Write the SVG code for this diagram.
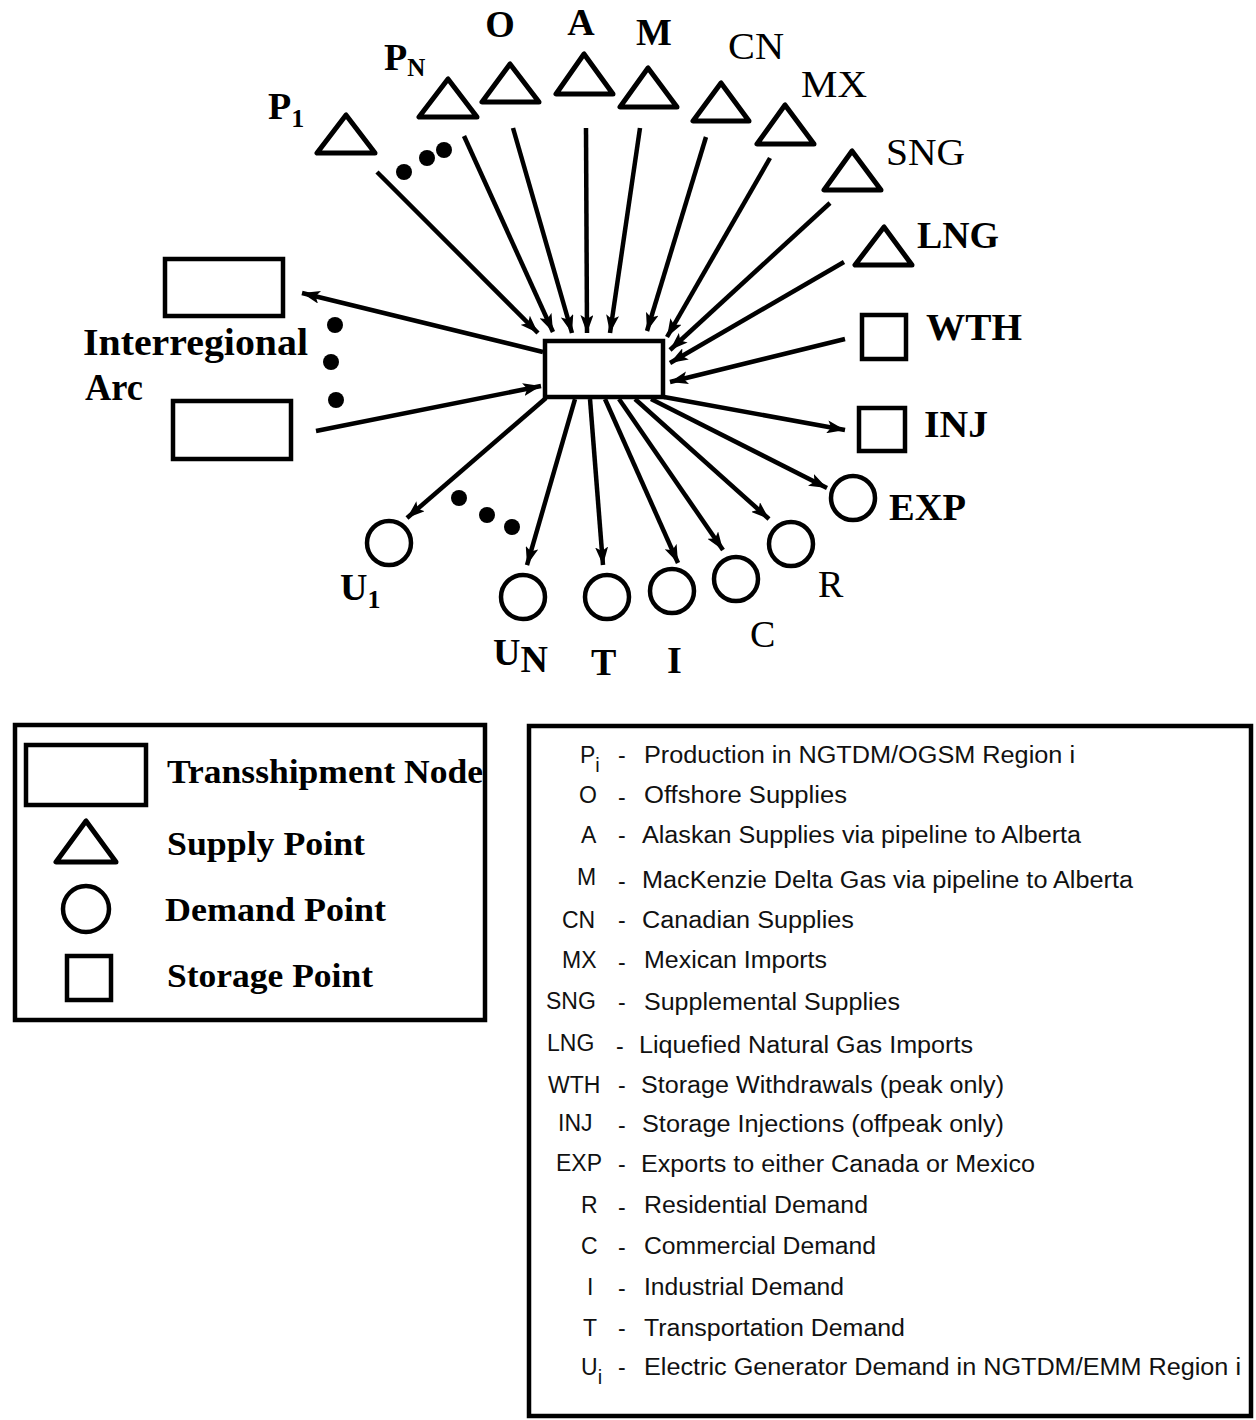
<svg xmlns="http://www.w3.org/2000/svg" width="1256" height="1420" viewBox="0 0 1256 1420">
<style>
.sh{fill:#fff;stroke:#000;stroke-width:4.5;stroke-linejoin:miter}
.tri{fill:#fff;stroke:#000;stroke-width:5;stroke-linejoin:round}
.dot{fill:#000}
.ln{stroke:#000;stroke-width:4.5;fill:none}
.lb{font-family:"Liberation Serif","Times New Roman",serif;font-size:38px;font-weight:bold;fill:#000}
.lr{font-family:"Liberation Serif","Times New Roman",serif;font-size:38px;fill:#000}
.lg{font-family:"Liberation Serif","Times New Roman",serif;font-size:33px;font-weight:bold;fill:#000}
.ks{font-family:"Liberation Sans",Arial,sans-serif;font-size:23px;fill:#111}
</style>
<defs>
<marker id="ah" markerUnits="userSpaceOnUse" markerWidth="18" markerHeight="13" refX="18" refY="6.5" orient="auto">
<path d="M0,0 L18,6.5 L0,13 L4,6.5 Z" fill="#000"/>
</marker>
</defs>
<rect width="1256" height="1420" fill="#fff"/>

<g id="connectors">
<line class="ln" x1="377" y1="172" x2="538" y2="333" marker-end="url(#ah)"/>
<line class="ln" x1="464" y1="136" x2="553" y2="332" marker-end="url(#ah)"/>
<line class="ln" x1="513" y1="128" x2="572" y2="333" marker-end="url(#ah)"/>
<line class="ln" x1="586" y1="128" x2="587" y2="333" marker-end="url(#ah)"/>
<line class="ln" x1="640" y1="128" x2="610" y2="333" marker-end="url(#ah)"/>
<line class="ln" x1="706" y1="137" x2="647" y2="331" marker-end="url(#ah)"/>
<line class="ln" x1="770" y1="158" x2="667" y2="337" marker-end="url(#ah)"/>
<line class="ln" x1="830" y1="203" x2="670" y2="350" marker-end="url(#ah)"/>
<line class="ln" x1="844" y1="262" x2="670" y2="363" marker-end="url(#ah)"/>
<line class="ln" x1="845" y1="339" x2="670" y2="382" marker-end="url(#ah)"/>
<line class="ln" x1="543" y1="352" x2="302" y2="293" marker-end="url(#ah)"/>
<line class="ln" x1="316" y1="431" x2="541" y2="386" marker-end="url(#ah)"/>
<line class="ln" x1="546" y1="398" x2="407" y2="518" marker-end="url(#ah)"/>
<line class="ln" x1="575" y1="399" x2="527" y2="565" marker-end="url(#ah)"/>
<line class="ln" x1="590" y1="399" x2="603" y2="565" marker-end="url(#ah)"/>
<line class="ln" x1="605" y1="399" x2="678" y2="563" marker-end="url(#ah)"/>
<line class="ln" x1="619" y1="399" x2="723" y2="550" marker-end="url(#ah)"/>
<line class="ln" x1="635" y1="399" x2="769" y2="519" marker-end="url(#ah)"/>
<line class="ln" x1="651" y1="399" x2="827" y2="488" marker-end="url(#ah)"/>
<line class="ln" x1="664" y1="397" x2="845" y2="430" marker-end="url(#ah)"/>
</g>

<g id="dots">
<circle class="dot" cx="404" cy="172" r="8"/>
<circle class="dot" cx="427" cy="158" r="8"/>
<circle class="dot" cx="444" cy="150" r="8"/>
<circle class="dot" cx="335" cy="325" r="8"/>
<circle class="dot" cx="331" cy="362" r="8"/>
<circle class="dot" cx="336" cy="400" r="8"/>
<circle class="dot" cx="459" cy="498" r="8"/>
<circle class="dot" cx="487" cy="515" r="8"/>
<circle class="dot" cx="512" cy="527" r="8"/>
</g>

<g id="node-transship"><rect class="sh" x="545" y="341" width="118" height="56"/></g>
<g id="node-arc-top"><rect class="sh" x="165" y="259" width="118" height="57"/></g>
<g id="node-arc-bottom"><rect class="sh" x="173" y="401" width="118" height="58"/></g>
<g id="label-interregional">
<text class="lb" x="83" y="355" textLength="225" lengthAdjust="spacingAndGlyphs">Interregional</text>
<text class="lb" x="85" y="400" textLength="58" lengthAdjust="spacingAndGlyphs">Arc</text>
</g>

<g id="node-P1"><path class="tri" d="M346,115 L317,153 L375,153 Z"/><text class="lb" x="268" y="119">P<tspan font-size="26" dy="8">1</tspan></text></g>
<g id="node-PN"><path class="tri" d="M448,79 L419,117 L477,117 Z"/><text class="lb" x="384" y="70" font-size="32">P<tspan font-size="25" dy="6">N</tspan></text></g>
<g id="node-O"><path class="tri" d="M510,64 L482,102 L539,102 Z"/><text class="lb" x="500" y="37" text-anchor="middle">O</text></g>
<g id="node-A"><path class="tri" d="M584,54 L556,94 L613,94 Z"/><text class="lb" x="581" y="35" text-anchor="middle">A</text></g>
<g id="node-M"><path class="tri" d="M648,68 L620,107 L677,107 Z"/><text class="lb" x="654" y="45" text-anchor="middle">M</text></g>
<g id="node-CN"><path class="tri" d="M721,83 L693,121 L749,121 Z"/><text class="lr" x="728" y="59" textLength="56" lengthAdjust="spacingAndGlyphs">CN</text></g>
<g id="node-MX"><path class="tri" d="M785,105 L757,144 L814,144 Z"/><text class="lr" x="801" y="97" textLength="66" lengthAdjust="spacingAndGlyphs">MX</text></g>
<g id="node-SNG"><path class="tri" d="M852,151 L824,190 L881,190 Z"/><text class="lr" x="886" y="165" textLength="79" lengthAdjust="spacingAndGlyphs">SNG</text></g>
<g id="node-LNG"><path class="tri" d="M884,227 L855,265 L912,265 Z"/><text class="lb" x="917" y="248" textLength="82" lengthAdjust="spacingAndGlyphs">LNG</text></g>

<g id="node-WTH"><rect class="sh" x="862" y="315" width="44" height="44"/><text class="lb" x="926" y="340" textLength="96" lengthAdjust="spacingAndGlyphs">WTH</text></g>
<g id="node-INJ"><rect class="sh" x="859" y="408" width="46" height="43"/><text class="lb" x="924" y="437" textLength="64" lengthAdjust="spacingAndGlyphs">INJ</text></g>
<g id="node-EXP"><circle class="sh" cx="853" cy="498" r="22"/><text class="lb" x="889" y="520" textLength="77" lengthAdjust="spacingAndGlyphs">EXP</text></g>

<g id="node-U1"><circle class="sh" cx="389" cy="543" r="22"/><text class="lb" x="340" y="600">U<tspan font-size="26" dy="8">1</tspan></text></g>
<g id="node-UN"><circle class="sh" cx="523" cy="597" r="22"/><text class="lb" x="493" y="665">U<tspan class="lr" font-size="27" dy="7">N</tspan></text></g>
<g id="node-T"><circle class="sh" cx="607" cy="597" r="22"/><text class="lb" x="591" y="675">T</text></g>
<g id="node-I"><circle class="sh" cx="672" cy="591" r="22"/><text class="lb" x="667" y="673">I</text></g>
<g id="node-C"><circle class="sh" cx="736" cy="579" r="22"/><text class="lr" x="750" y="647">C</text></g>
<g id="node-R"><circle class="sh" cx="791" cy="544" r="22"/><text class="lr" x="818" y="597">R</text></g>

<g id="legend-shapes">
<rect class="sh" x="15" y="725" width="470" height="295"/>
<rect class="sh" x="26" y="745" width="120" height="60"/>
<path class="tri" d="M86,821 L56,862 L116,862 Z"/>
<circle class="sh" cx="86" cy="909" r="23"/>
<rect class="sh" x="67" y="956" width="44" height="44"/>
<text class="lg" x="167" y="783" textLength="316" lengthAdjust="spacingAndGlyphs">Transshipment Node</text>
<text class="lg" x="167" y="855" textLength="198" lengthAdjust="spacingAndGlyphs">Supply Point</text>
<text class="lg" x="165" y="921" textLength="221" lengthAdjust="spacingAndGlyphs">Demand Point</text>
<text class="lg" x="167" y="987" textLength="206" lengthAdjust="spacingAndGlyphs">Storage Point</text>
</g>

<g id="legend-key">
<rect class="sh" x="529" y="726" width="722" height="690"/>
<text class="ks" x="580" y="763">P<tspan font-size="20" dy="9">i</tspan></text>
<text class="ks" x="618" y="763">-</text>
<text class="ks" x="644" y="763" textLength="431" lengthAdjust="spacingAndGlyphs">Production in NGTDM/OGSM  Region i</text>
<text class="ks" x="579" y="803">O</text>
<text class="ks" x="618" y="805">-</text>
<text class="ks" x="644" y="803" textLength="203" lengthAdjust="spacingAndGlyphs">Offshore Supplies</text>
<text class="ks" x="581" y="843">A</text>
<text class="ks" x="618" y="843">-</text>
<text class="ks" x="642" y="843" textLength="439" lengthAdjust="spacingAndGlyphs">Alaskan Supplies via pipeline to Alberta</text>
<text class="ks" x="577" y="885">M</text>
<text class="ks" x="618" y="889">-</text>
<text class="ks" x="642" y="888" textLength="491" lengthAdjust="spacingAndGlyphs">MacKenzie Delta Gas via pipeline to Alberta</text>
<text class="ks" x="562" y="928">CN</text>
<text class="ks" x="618" y="928">-</text>
<text class="ks" x="642" y="928" textLength="212" lengthAdjust="spacingAndGlyphs">Canadian Supplies</text>
<text class="ks" x="562" y="968">MX</text>
<text class="ks" x="618" y="970">-</text>
<text class="ks" x="644" y="968" textLength="183" lengthAdjust="spacingAndGlyphs">Mexican Imports</text>
<text class="ks" x="546" y="1009">SNG</text>
<text class="ks" x="618" y="1010">-</text>
<text class="ks" x="644" y="1010" textLength="256" lengthAdjust="spacingAndGlyphs">Supplemental Supplies</text>
<text class="ks" x="547" y="1051">LNG</text>
<text class="ks" x="616" y="1054">-</text>
<text class="ks" x="639" y="1053" textLength="334" lengthAdjust="spacingAndGlyphs">Liquefied Natural Gas Imports</text>
<text class="ks" x="548" y="1093">WTH</text>
<text class="ks" x="618" y="1093">-</text>
<text class="ks" x="641" y="1093" textLength="363" lengthAdjust="spacingAndGlyphs">Storage Withdrawals (peak only)</text>
<text class="ks" x="558" y="1131">INJ</text>
<text class="ks" x="618" y="1133">-</text>
<text class="ks" x="642" y="1132" textLength="362" lengthAdjust="spacingAndGlyphs">Storage Injections (offpeak only)</text>
<text class="ks" x="556" y="1171">EXP</text>
<text class="ks" x="618" y="1172">-</text>
<text class="ks" x="641" y="1172" textLength="394" lengthAdjust="spacingAndGlyphs">Exports to either Canada  or Mexico</text>
<text class="ks" x="581" y="1213">R</text>
<text class="ks" x="618" y="1215">-</text>
<text class="ks" x="644" y="1213" textLength="224" lengthAdjust="spacingAndGlyphs">Residential Demand</text>
<text class="ks" x="581" y="1254">C</text>
<text class="ks" x="618" y="1255">-</text>
<text class="ks" x="644" y="1254" textLength="232" lengthAdjust="spacingAndGlyphs">Commercial Demand</text>
<text class="ks" x="587" y="1295">I</text>
<text class="ks" x="618" y="1296">-</text>
<text class="ks" x="644" y="1295" textLength="200" lengthAdjust="spacingAndGlyphs">Industrial Demand</text>
<text class="ks" x="583" y="1336">T</text>
<text class="ks" x="618" y="1336">-</text>
<text class="ks" x="644" y="1336" textLength="261" lengthAdjust="spacingAndGlyphs">Transportation Demand</text>
<text class="ks" x="581" y="1375">U<tspan font-size="20" dy="9">i</tspan></text>
<text class="ks" x="618" y="1375">-</text>
<text class="ks" x="644" y="1375" textLength="597" lengthAdjust="spacingAndGlyphs">Electric Generator Demand in NGTDM/EMM  Region i</text>
</g>
</svg>
